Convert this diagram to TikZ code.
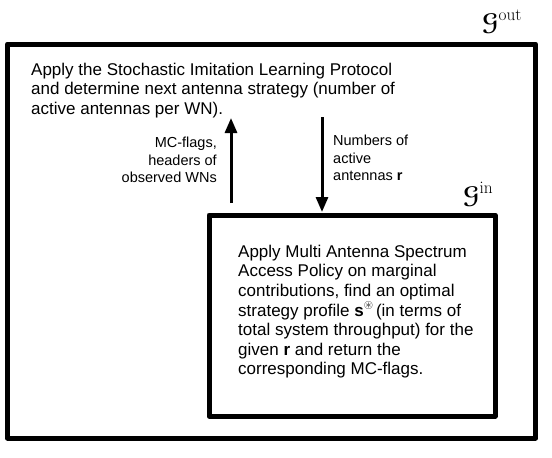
\documentclass[tikz,border=0pt]{standalone}
\usepackage[no-math]{fontspec}
\setmainfont{Liberation Sans}
\usepackage{amssymb}
\DeclareMathAlphabet{\gscript}{U}{eus}{b}{n}
\usetikzlibrary{arrows.meta}
\tikzset{
  frame/.style={draw, line width=5pt, line join=round, inner sep=0pt},
  bigtext/.style={inner sep=0pt, align=left, font=\fontsize{17}{19.6}\selectfont},
  labtext/.style={inner sep=0pt, font=\fontsize{14.5}{17.8}\selectfont},
  flow/.style={line width=3pt, -{Triangle[width=12pt,length=15pt]}},
  gname/.style={inner sep=0pt, font=\fontsize{24}{26}\selectfont}
}
\begin{document}
\begin{tikzpicture}[x=1pt,y=-1pt]
\useasboundingbox (0,0) rectangle (552,458);
% outer and inner frames
\draw[frame] (7.5,44) rectangle (535.5,438);
\draw[frame] (209,215) rectangle (495,416);
% texts
\node[bigtext, anchor=north west] (outtext) at (31,62.6)
  {Apply the Stochastic Imitation Learning Protocol\\
   and determine next antenna strategy (number of\\
   active antennas per WN).};
\node[bigtext, anchor=north west] (intext) at (238,244.8)
  {Apply Multi Antenna Spectrum\\
   Access Policy on marginal\\
   contributions, find an optimal\\
   strategy profile \textbf{s}\raisebox{0.42em}{\fontsize{12}{12}\selectfont$\circledast$}\,(in terms of\\
   total system throughput) for the\\
   given \textbf{r} and return the\\
   corresponding MC-flags.};
\node[labtext, align=right, anchor=north east] (uplab) at (217,136.5)
  {MC-flags,\\ headers of\\ observed WNs};
\node[labtext, align=left, anchor=north west] (downlab) at (333,134.5)
  {Numbers of\\ active\\ antennas \textbf{r}};
\node[gname, anchor=base west] (gout) at (482,30) {$\gscript{G}^{\mathrm{out}}$};
\node[gname, anchor=base west] (gin) at (463,203) {$\gscript{G}^{\mathrm{in}}$};
% arrows
\coordinate (upS) at (231,203);
\coordinate (upE) at (231,118);
\coordinate (dnS) at (322,117);
\coordinate (dnE) at (322,212);
\draw[flow] (upS) -- (upE);
\draw[flow] (dnS) -- (dnE);
\end{tikzpicture}
\end{document}
